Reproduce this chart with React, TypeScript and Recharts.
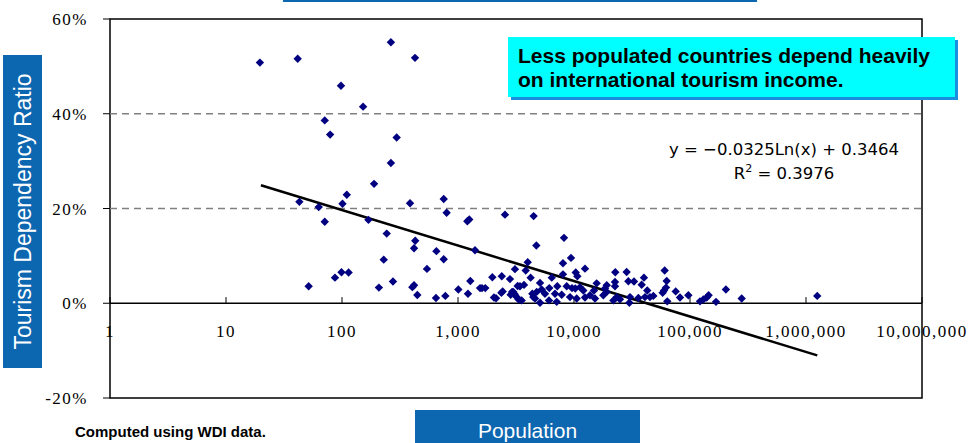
import React from 'react';
import { ScatterChart, Scatter, XAxis, YAxis, ReferenceLine, ReferenceDot, ReferenceArea } from 'recharts';

// population (thousands) and tourism dependency ratio
const population = [
  19.6, 41.5, 264, 426, 98, 152, 71, 79, 296, 264, 189, 110, 42.9, 63, 101, 71, 386, 753, 798, 169,
  243, 1203, 1250, 428, 418, 651, 753, 1402, 229, 540, 87, 99, 114, 51.6, 208, 275, 404, 418, 446, 646,
  778, 1007, 1219, 1277, 1549, 2541, 4487, 8198, 4735, 9423, 8035, 3990, 3098, 3836, 12440, 8035, 10350, 10690, 1977, 2384,
  2806, 4227, 5095, 6430, 1611, 1719, 2042, 2128, 2365, 2428, 2924, 3083, 3206, 3266, 3334, 3422, 3706, 5265, 6124, 7180,
  8650, 9610, 10260, 11260, 12030, 4372, 4767, 3000, 2843, 3540, 5095, 4460, 4613, 6087, 7096, 9243, 10550, 12440, 13740, 14860,
  15170, 15680, 6860, 7835, 5620, 22700, 28430, 60490, 62940, 40090, 29400, 32900, 38300, 22560, 22560, 19150, 62100, 59700, 58100, 42800,
  75300, 96800, 82000, 48300, 45200, 40900, 35900, 30400, 30000, 63700, 24900, 23360, 21840, 18500, 19150, 17900, 122000, 130300, 139300, 144700,
  167500, 204000, 279000, 1250000,
];
const tourismRatio = [
  0.508, 0.516, 0.551, 0.518, 0.459, 0.415, 0.386, 0.356, 0.35, 0.296, 0.252, 0.229, 0.214, 0.203, 0.21, 0.172, 0.211, 0.22, 0.191, 0.176,
  0.147, 0.173, 0.177, 0.132, 0.116, 0.11, 0.093, 0.112, 0.092, 0.0725, 0.054, 0.0655, 0.0648, 0.036, 0.033, 0.046, 0.034, 0.038, 0.0175, 0.011,
  0.0155, 0.029, 0.02, 0.047, 0.032, 0.187, 0.184, 0.138, 0.122, 0.0957, 0.0845, 0.0866, 0.072, 0.069, 0.073, 0.061, 0.065, 0.057, 0.055, 0.057,
  0.051, 0.054, 0.043, 0.054, 0.032, 0.032, 0.012, 0.0106, 0.022, 0.025, 0.024, 0.019, 0.013, 0.0365, 0.008, 0.036, 0.0387, 0.029, 0.032, 0.036,
  0.036, 0.032, 0.031, 0.034, 0.027, 0.02, 0.024, 0.024, 0.018, 0.006, 0.001, 0.013, 0.01, 0.006, 0.003, 0.013, 0.01, 0.012, 0.017, 0.027,
  0.01, 0.042, 0.02, 0.018, 0.02, 0.0655, 0.066, 0.069, 0.047, 0.054, 0.0465, 0.046, 0.039, 0.045, 0.036, 0.038, 0.033, 0.027, 0.022, 0.027,
  0.025, 0.017, 0.012, 0.0155, 0.013, 0.013, 0.011, 0.013, 0.001, 0.004, 0.0085, 0.013, 0.006, 0.031, 0.024, 0.017, 0.004, 0.008, 0.012, 0.017,
  0.003, 0.029, 0.01, 0.0155,
];

// log trend line end points
const trendPopulation = [20, 1250000];
const trendRatio = [0.249, -0.11];

const xTicks = [1, 10, 100, 1000, 10000, 100000, 1000000, 10000000];
const yTicks = [-0.2, 0, 0.2, 0.4, 0.6];

const points = population.map((p, i) => ({ x: p, y: tourismRatio[i] }));

const BLUE = '#0d66b0';
const serif = { fontFamily: '"Liberation Serif", serif', fontSize: 17, fill: '#000', letterSpacing: 1.5 };

const Diamond = (props: any) => {
  const { cx, cy } = props;
  const r = 4.2;
  return <path d={`M${cx},${cy - r}L${cx + r},${cy}L${cx},${cy + r}L${cx - r},${cy}Z`} fill="#000080" />;
};

const App: React.FC = () => {
  return (
    <div style={{ position: 'absolute', left: 0, top: 0, width: 973, height: 443, background: '#fff' }}>
      <ScatterChart width={973} height={443} margin={{ top: 19, right: 51, bottom: 45, left: 0 }}>
        <XAxis type="number" dataKey="x" scale="log" domain={[1, 10000000]} ticks={xTicks} hide allowDataOverflow />
        <YAxis
          type="number"
          dataKey="y"
          domain={[-0.2, 0.6]}
          ticks={yTicks}
          width={110}
          axisLine={false}
          tickLine={{ stroke: '#000' }}
          tickSize={7}
          tickMargin={15}
          tick={serif}
          tickFormatter={(v: number) => `${Math.round(v * 100)}%`}
        />
        <ReferenceArea x1={1} x2={10000000} y1={-0.2} y2={0.6} fill="none" stroke="#000" strokeWidth={1.5} ifOverflow="visible" />
        <ReferenceLine y={0.2} stroke="#808080" strokeDasharray="7 5" strokeWidth={1.3} />
        <ReferenceLine y={0.4} stroke="#808080" strokeDasharray="7 5" strokeWidth={1.3} />
        <ReferenceLine y={0} stroke="#000" strokeWidth={1.5} />
        {xTicks.map((t) => (
          <ReferenceLine key={'tm' + t} segment={[{ x: t, y: 0 }, { x: t, y: 0.013 }]} stroke="#000" ifOverflow="visible" />
        ))}
        {xTicks.map((t) => (
          <ReferenceDot
            key={'tl' + t}
            x={t}
            y={0}
            r={1}
            fill="none"
            stroke="none"
            ifOverflow="visible"
            label={{ value: t.toLocaleString('en-US'), position: 'bottom', offset: 21, ...serif }}
          />
        ))}
        <Scatter data={points} shape={Diamond} isAnimationActive={false} />
        <ReferenceLine
          segment={[
            { x: trendPopulation[0], y: trendRatio[0] },
            { x: trendPopulation[1], y: trendRatio[1] },
          ]}
          stroke="#000"
          strokeWidth={2.5}
          ifOverflow="visible"
        />
      </ScatterChart>
      <svg width={973} height={443} style={{ position: 'absolute', left: 0, top: 0, pointerEvents: 'none' }}>
        <rect x={283} y={-30} width={474} height={32} fill={BLUE} />
        <rect x={3} y={55} width={39} height={313} fill={BLUE} />
        <text
          x={0}
          y={0}
          transform="translate(23,211.5) rotate(-90)"
          textAnchor="middle"
          dominantBaseline="central"
          fill="#fff"
          fontFamily='"Liberation Sans", Arial, sans-serif'
          fontSize={23}
        >
          Tourism Dependency Ratio
        </text>
        <rect x={415} y={410} width={225} height={40} fill={BLUE} />
        <text x={527.5} y={438} textAnchor="middle" fill="#fff" fontFamily='"Liberation Sans", Arial, sans-serif' fontSize={21}>
          Population
        </text>
        <rect x={511} y={40} width={447} height={60} fill="#1a8fe0" />
        <rect x={508} y={37} width={447} height={60} fill="#00ffff" />
        <text x={518} y={63} fontFamily='"Liberation Sans", Arial, sans-serif' fontWeight="bold" fontSize={21} fill="#000">
          Less populated countries depend heavily
        </text>
        <text x={518} y={87} fontFamily='"Liberation Sans", Arial, sans-serif' fontWeight="bold" fontSize={21} fill="#000">
          on international tourism income.
        </text>
        <text x={784} y={155} textAnchor="middle" fontFamily='"DejaVu Sans", sans-serif' fontSize={16.5} fill="#000">
          y = −0.0325Ln(x) + 0.3464
        </text>
        <text x={784} y={179} textAnchor="middle" fontFamily='"DejaVu Sans", sans-serif' fontSize={16.5} fill="#000">
          R<tspan dy={-7} fontSize={11}>2</tspan>
          <tspan dy={7}> = 0.3976</tspan>
        </text>
        <text x={75} y={437} fontFamily='"Liberation Sans", Arial, sans-serif' fontWeight="bold" fontSize={15} fill="#000">
          Computed using WDI data.
        </text>
      </svg>
    </div>
  );
};

export default App;
